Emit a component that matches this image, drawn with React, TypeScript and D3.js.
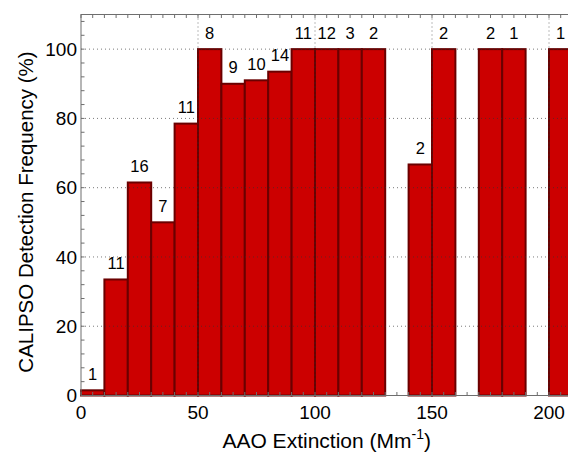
import React, { useEffect, useRef } from 'react';
import { select, scaleLinear, range } from 'd3';

// bin lower edges (Mm-1), bin width 10
const binStarts = [0, 10, 20, 30, 40, 50, 60, 70, 80, 90, 100, 110, 120, 130, 140, 150, 160, 170, 180, 190, 200];
const frequencies = [1.5, 33.5, 61.5, 50, 78.5, 100, 90, 91, 93.5, 100, 100, 100, 100, 0, 66.7, 100, 0, 100, 100, 0, 100];
const counts = ['1', '11', '16', '7', '11', '8', '9', '10', '14', '11', '12', '3', '2', '', '2', '2', '', '2', '1', '', '1'];

const xTicks = [0, 50, 100, 150, 200];
const yTicks = [0, 20, 40, 60, 80, 100];

const BIN = 10;
const FONT = 'Liberation Sans, Arial, sans-serif';

const App: React.FC = () => {
  const svgRef = useRef<SVGSVGElement | null>(null);
  const width = 568;
  const height = 452;

  useEffect(() => {
    if (!svgRef.current) return;
    const root = select(svgRef.current);
    root.selectAll('*').remove();

    const left = 81;
    const right = 572.4;
    const top = 14.5;
    const bottom = 395.5;

    const x = scaleLinear().domain([0, 210]).range([left, right]);
    const y = scaleLinear().domain([0, 110]).range([bottom, top]);

    const svg = root.attr('width', width).attr('height', height);

    svg.append('rect').attr('width', width).attr('height', height).attr('fill', '#fff');

    // Bars
    svg.append('g')
      .selectAll('rect')
      .data(binStarts)
      .enter()
      .append('rect')
      .attr('x', (d: number) => x(d))
      .attr('y', (_d: number, i: number) => y(frequencies[i]))
      .attr('width', (d: number) => x(d + BIN) - x(d))
      .attr('height', (_d: number, i: number) => y(0) - y(frequencies[i]))
      .attr('fill', '#cc0000')
      .attr('stroke', '#6a0000')
      .attr('stroke-width', 2);

    // Grid (drawn over bars)
    const grid = svg.append('g')
      .attr('stroke', '#333')
      .attr('stroke-opacity', 0.65)
      .attr('stroke-dasharray', '1,3')
      .attr('stroke-width', 1);
    grid.selectAll('line.gx')
      .data(xTicks.filter((t) => t > 0))
      .enter()
      .append('line')
      .attr('x1', (d: number) => x(d))
      .attr('x2', (d: number) => x(d))
      .attr('y1', top)
      .attr('y2', bottom);
    grid.selectAll('line.gy')
      .data(yTicks.filter((t) => t > 0))
      .enter()
      .append('line')
      .attr('x1', left)
      .attr('x2', right)
      .attr('y1', (d: number) => y(d))
      .attr('y2', (d: number) => y(d));

    // Frame and inward ticks
    const axes = svg.append('g').attr('stroke', '#6e6e6e').attr('stroke-width', 1).attr('fill', 'none');
    axes.append('rect')
      .attr('x', left)
      .attr('y', top)
      .attr('width', right - left)
      .attr('height', bottom - top);

    const tl = 3.5;
    const xMinor = range(0, 211, 5);
    const yMinor = range(0, 110, 4);
    xMinor.forEach((t: number) => {
      axes.append('line').attr('x1', x(t)).attr('x2', x(t)).attr('y1', bottom).attr('y2', bottom - tl);
      axes.append('line').attr('x1', x(t)).attr('x2', x(t)).attr('y1', top).attr('y2', top + tl);
    });
    yMinor.forEach((t: number) => {
      axes.append('line').attr('x1', left).attr('x2', left + tl).attr('y1', y(t)).attr('y2', y(t));
      axes.append('line').attr('x1', right).attr('x2', right - tl).attr('y1', y(t)).attr('y2', y(t));
    });

    // Tick labels
    svg.append('g')
      .selectAll('text')
      .data(xTicks)
      .enter()
      .append('text')
      .attr('x', (d: number) => x(d))
      .attr('y', 419)
      .attr('text-anchor', 'middle')
      .attr('font-family', FONT)
      .attr('font-size', 19)
      .attr('fill', '#000')
      .text((d: number) => String(d));

    svg.append('g')
      .selectAll('text')
      .data(yTicks)
      .enter()
      .append('text')
      .attr('x', 77)
      .attr('y', (d: number) => y(d) + 6.8)
      .attr('text-anchor', 'end')
      .attr('font-family', FONT)
      .attr('font-size', 19)
      .attr('fill', '#000')
      .text((d: number) => String(d));

    // Count labels above bars
    svg.append('g')
      .selectAll('text')
      .data(binStarts)
      .enter()
      .append('text')
      .attr('x', (d: number) => x(d + BIN / 2))
      .attr('y', (_d: number, i: number) => y(frequencies[i]) - 10.5)
      .attr('text-anchor', 'middle')
      .attr('font-family', FONT)
      .attr('font-size', 16.5)
      .attr('fill', '#000')
      .text((_d: number, i: number) => counts[i]);

    // Axis titles
    const xt = svg.append('text')
      .attr('x', (left + right) / 2)
      .attr('y', 448)
      .attr('text-anchor', 'middle')
      .attr('font-family', FONT)
      .attr('font-size', 21)
      .attr('fill', '#000');
    xt.append('tspan').text('AAO Extinction (Mm');
    xt.append('tspan').attr('dy', -9).attr('font-size', 14).text('-1');
    xt.append('tspan').attr('dy', 9).text(')');

    svg.append('text')
      .attr('transform', `translate(33,212) rotate(-90)`)
      .attr('text-anchor', 'middle')
      .attr('font-family', FONT)
      .attr('font-size', 20.5)
      .attr('fill', '#000')
      .text('CALIPSO Detection Frequency (%)');
  }, []);

  return <svg ref={svgRef} style={{ position: 'absolute', left: 0, top: 0 }}></svg>;
};

export default App;
